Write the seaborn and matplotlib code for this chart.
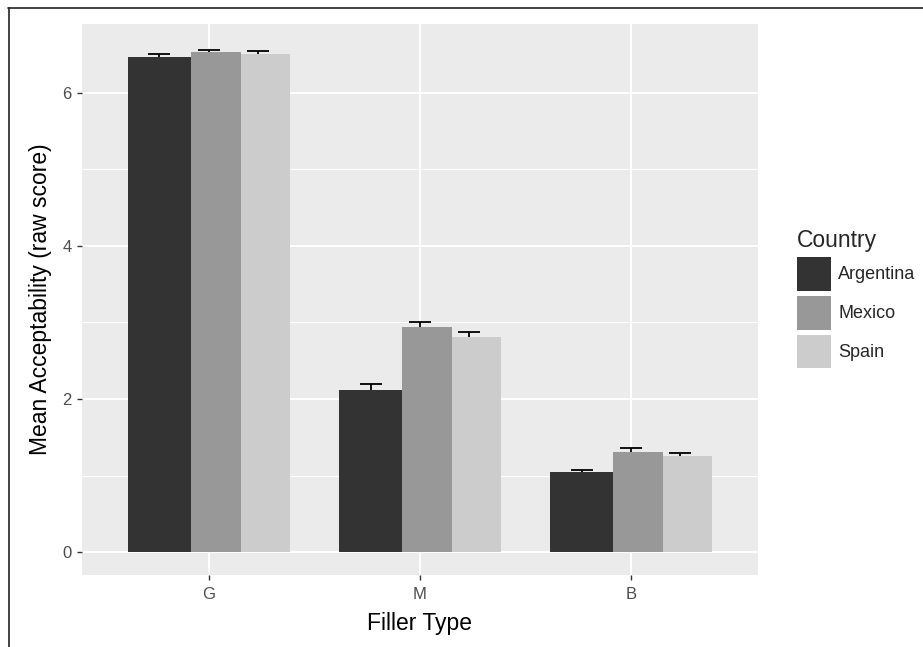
# =========================================================
# Aceptabilidad media por tipo de relleno y país
# =========================================================

import pandas as pd
import matplotlib
matplotlib.use('Agg')
import matplotlib.pyplot as plt
import seaborn as sns
from matplotlib.lines import Line2D
from matplotlib.patches import Patch


# =========================================================
# DATOS
# =========================================================

tipos = ['G', 'M', 'B']
paises = ['Argentina', 'Mexico', 'Spain']

media_argentina = [6.47, 2.12, 1.04]
media_mexico = [6.53, 2.94, 1.31]
media_spain = [6.51, 2.81, 1.25]

error_argentina = [0.04, 0.07, 0.03]
error_mexico = [0.03, 0.07, 0.05]
error_spain = [0.04, 0.06, 0.04]

colores = ['#333333', '#989898', '#CCCCCC']


# tabla larga para seaborn
medias = [media_argentina, media_mexico, media_spain]
errores = [error_argentina, error_mexico, error_spain]

df = pd.DataFrame({
    'tipo': tipos * 3,
    'pais': [p for p in paises for _ in tipos],
    'media': [v for serie in medias for v in serie],
    'error': [v for serie in errores for v in serie],
})


# =========================================================
# ESTILO (tipo ggplot)
# =========================================================

sns.set_style('darkgrid', {
    'axes.facecolor': '#EBEBEB',
    'grid.color': 'white',
})
plt.rcParams['font.family'] = ['Liberation Sans', 'DejaVu Sans']

fig = plt.figure(figsize=(9.23, 6.47), dpi=100)
ax = fig.add_axes([0.0888, 0.1113, 0.8212 - 0.0888, 0.9629 - 0.1113])

ax = sns.barplot(
    data=df,
    x='tipo',
    y='media',
    hue='pais',
    order=tipos,
    hue_order=paises,
    palette=colores,
    errorbar=None,
    saturation=1,
    legend=False,
    ax=ax,
)

# anchos de barra (Argentina más ancha, como en el original)
izquierda = [-0.384, -0.084, 0.152]
ancho = [0.300, 0.236, 0.232]
desplazamiento_error = [-0.233, 0.0, 0.233]

for i, contenedor in enumerate(ax.containers):
    for barra in contenedor:
        cat = round(barra.get_x() + barra.get_width() / 2)
        barra.set_x(cat + izquierda[i])
        barra.set_width(ancho[i])
        barra.set_edgecolor('none')
        barra.set_zorder(2)

# barras de error (detrás de las barras)
for i, pais in enumerate(paises):
    sub = df[df['pais'] == pais]
    xs = [tipos.index(t) + desplazamiento_error[i] for t in sub['tipo']]
    ax.errorbar(
        xs, sub['media'], yerr=sub['error'],
        fmt='none', ecolor='black', elinewidth=1.3,
        capsize=7.9, capthick=1.3, zorder=1.5,
    )

# ejes
ax.set_xlim(-0.6, 2.6)
ax.set_ylim(-0.30, 6.90)
ax.set_yticks([0, 2, 4, 6])
ax.set_yticks([1, 3, 5], minor=True)
ax.grid(which='major', color='white', linewidth=1.4)
ax.grid(which='minor', axis='y', color='white', linewidth=0.7)
ax.set_axisbelow(True)

for lado in ax.spines.values():
    lado.set_visible(False)

ax.tick_params(axis='both', which='major', length=3.5, width=1,
               color='#333333', labelcolor='#4D4D4D', labelsize=12,
               bottom=True, left=True)
ax.tick_params(axis='x', which='major', pad=5)
ax.tick_params(axis='y', which='major', pad=4)
ax.tick_params(axis='y', which='minor', length=0)

ax.set_xlabel('Filler Type', fontsize=16.5, color='black', labelpad=7)
ax.set_ylabel('Mean Acceptability (raw score)', fontsize=16.5,
              color='black', labelpad=7)

# leyenda
manijas = [Patch(facecolor=c, edgecolor='none') for c in colores]
leyenda = fig.legend(
    manijas, paises,
    title='Country',
    loc='upper left',
    bbox_to_anchor=(797 / 923, 1 - 229 / 647),
    frameon=False,
    fontsize=13,
    title_fontsize=16.5,
    handlelength=1.88,
    handleheight=2.5,
    handletextpad=0.4,
    labelspacing=0.28,
    borderpad=0,
    borderaxespad=0,
    alignment='left',
)

# borde de la captura (arriba e izquierda)
fig.add_artist(Line2D([8 / 923, 1], [1 - 7.5 / 647, 1 - 7.5 / 647],
                      transform=fig.transFigure, color='#222222', linewidth=1.2))
fig.add_artist(Line2D([8.5 / 923, 8.5 / 923], [0, 1 - 7.5 / 647],
                      transform=fig.transFigure, color='#222222', linewidth=1.2))

fig.savefig('out.png', dpi=100, facecolor='white')
